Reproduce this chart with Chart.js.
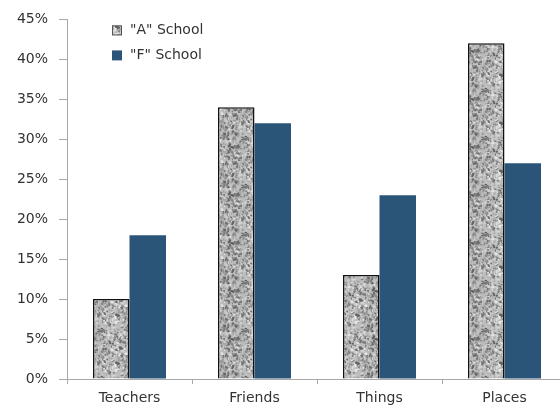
<!DOCTYPE html>
<html><head><meta charset="utf-8">
<script src="https://cdn.jsdelivr.net/npm/chart.js@4.4.0/dist/chart.umd.min.js"></script>
<style>
html,body{margin:0;padding:0;overflow:hidden;background:#fff;width:560px;height:405px}
#wrap{position:absolute;left:0;top:0;width:575px;height:405px}
</style>
</head><body>
<div id="wrap"><canvas id="c" width="575" height="405"></canvas></div>
<script>
// ---- data ----
const categories = ['Teachers', 'Friends', 'Things', 'Places'];
const schoolA = [10, 34, 13, 42];
const schoolF = [18, 32, 23, 27];
const seriesLabels = ['"A" School', '"F" School'];
const yMin = 0, yMax = 45, yStep = 5;

// ---- texture for "A" school (deterministic speckle) ----
function makeTexture() {
  const s = 48;
  const cv = document.createElement('canvas');
  cv.width = s; cv.height = s;
  const g = cv.getContext('2d');
  g.fillStyle = '#bdbdbd';
  g.fillRect(0, 0, s, s);
  let seed = 987654;
  const rnd = () => { seed = (seed * 1103515245 + 12345) & 0x7fffffff; return seed / 0x7fffffff; };
  for (let i = 0; i < 700; i++) {
    const x = rnd() * s, y = rnd() * s;
    const r = 0.45 + rnd() * 0.9;
    const v = Math.floor(95 + rnd() * 140);
    g.fillStyle = `rgb(${v},${v},${v})`;
    const rx = r * (1 + rnd() * 1.2), rot = rnd() * Math.PI;
    for (const dx of [-s, 0, s]) for (const dy of [-s, 0, s]) {
      g.beginPath();
      g.ellipse(x + dx, y + dy, rx, r, rot, 0, Math.PI * 2);
      g.fill();
    }
  }
  return g.createPattern(cv, 'repeat');
}
const ctx = document.getElementById('c').getContext('2d');
const texture = makeTexture();
const colorF = '#2b5479';
const axisColor = '#a8a8a8';
const textColor = '#333333';
const fontFamily = '"DejaVu Sans", sans-serif';

const legendPlugin = {
  id: 'innerLegend',
  afterDraw(chart) {
    const c = chart.ctx, a = chart.chartArea;
    c.save();
    c.font = '14px ' + fontFamily;
    c.textBaseline = 'middle';
    chart.data.datasets.forEach((ds, i) => {
      const cy = a.top + 11 + i * 25;
      const bx = a.left + 45;
      c.fillStyle = ds.backgroundColor;
      c.fillRect(bx, cy - 5, 10, 10);
      if (ds.borderWidth) {
        c.strokeStyle = '#555';
        c.lineWidth = 1;
        c.strokeRect(bx + 0.5, cy - 4.5, 9, 9);
      }
      c.fillStyle = textColor;
      c.fillText(ds.label, bx + 18, cy);
    });
    c.restore();
  }
};

new Chart(ctx, {
  type: 'bar',
  data: {
    labels: categories,
    datasets: [
      { label: seriesLabels[0], data: schoolA, backgroundColor: texture, borderColor: '#111', borderWidth: 1.5 },
      { label: seriesLabels[1], data: schoolF, backgroundColor: colorF, borderWidth: 0 }
    ]
  },
  options: {
    responsive: false,
    animation: false,
    layout: { padding: { top: 18, right: 8, left: 0, bottom: 0 } },
    datasets: { bar: { categoryPercentage: 0.584, barPercentage: 1.0 } },
    plugins: { legend: { display: false }, tooltip: { enabled: false } },
    scales: {
      x: {
        grid: { display: true, offset: true, drawOnChartArea: false, drawTicks: true, tickLength: 5, color: axisColor },
        border: { color: axisColor },
        ticks: { color: textColor, font: { family: fontFamily, size: 14 }, padding: 6, maxRotation: 0 },
        afterFit(s) { s.height = 26; }
      },
      y: {
        min: yMin, max: yMax,
        grid: { display: true, drawOnChartArea: false, drawTicks: true, tickLength: 8, color: axisColor },
        border: { color: axisColor },
        ticks: { stepSize: yStep, color: textColor, font: { family: fontFamily, size: 14 }, padding: 11,
                 callback: v => v + '%' },
        afterFit(s) { s.width = 67; }
      }
    }
  },
  plugins: [legendPlugin]
});
</script>
</body></html>
